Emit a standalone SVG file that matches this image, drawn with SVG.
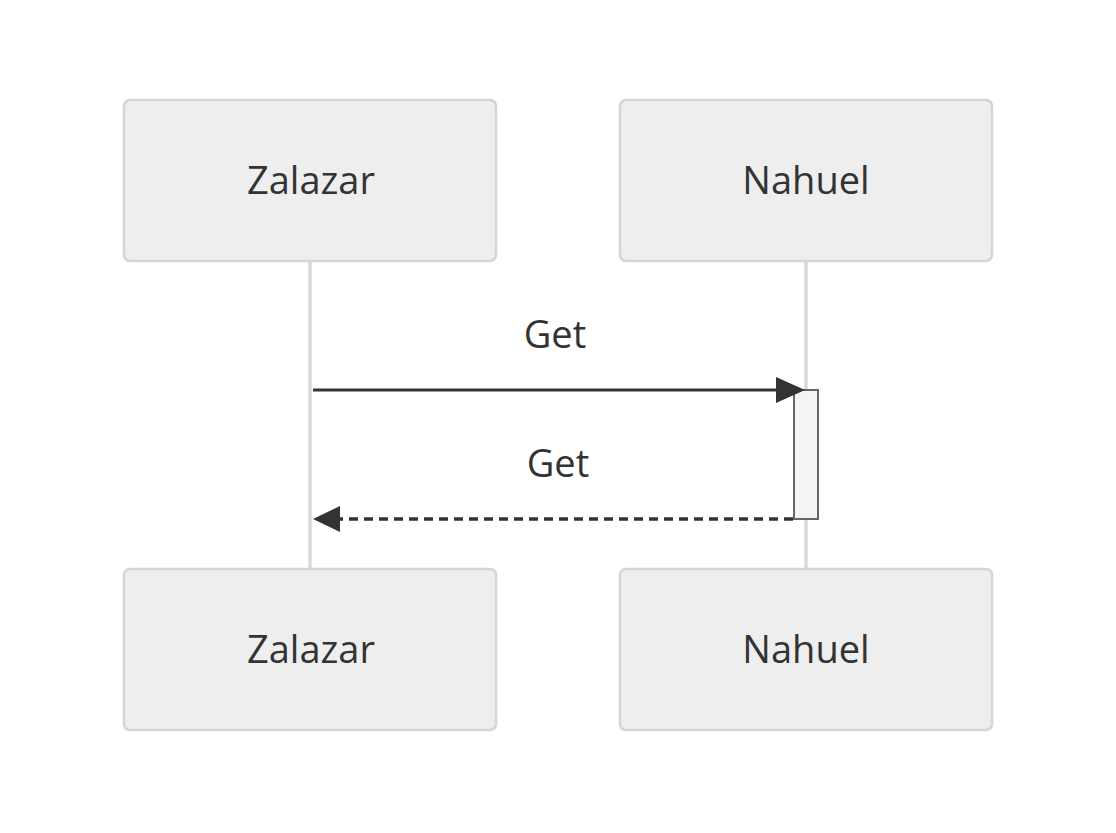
<svg xmlns="http://www.w3.org/2000/svg" width="1116" height="833" viewBox="0 0 1116 833">
<defs>
<style>
.actor{fill:#eeeeee;stroke:#d5d5d5;stroke-width:2.5}
.lbl{font-family:"Trebuchet MS","Open Sans","DejaVu Sans",sans-serif;font-size:38px;fill:#333333;text-anchor:middle}
.life{stroke:#d9d9d9;stroke-width:3.5}
.msg{stroke:#333333;stroke-width:3;fill:none}
.dash{stroke-width:3.5;stroke-dasharray:9,6}
</style>
</defs>
<rect width="1116" height="833" fill="#ffffff"/>
<g id="lifelines">
<line class="life" x1="310" y1="262" x2="310" y2="569"/>
<line class="life" x1="806" y1="262" x2="806" y2="569"/>
</g>
<g id="actor-zalazar-top"><rect class="actor" x="124" y="100" width="372" height="161" rx="6"/><text class="lbl" x="311" y="194">Zalazar</text></g>
<g id="actor-nahuel-top"><rect class="actor" x="620" y="100" width="372" height="161" rx="6"/><text class="lbl" x="806" y="194">Nahuel</text></g>
<g id="actor-zalazar-bottom"><rect class="actor" x="124" y="569" width="372" height="161" rx="6"/><text class="lbl" x="311" y="663">Zalazar</text></g>
<g id="actor-nahuel-bottom"><rect class="actor" x="620" y="569" width="372" height="161" rx="6"/><text class="lbl" x="806" y="663">Nahuel</text></g>
<g id="activation"><rect x="794" y="390" width="24" height="129" fill="#f4f4f4" stroke="#666666" stroke-width="2"/></g>
<g id="connectors">
<text class="lbl" x="555" y="348">Get</text>
<line class="msg" x1="313" y1="390" x2="776" y2="390"/>
<path d="M776,377 L805,390 L776,403 z" fill="#333333"/>
<text class="lbl" x="558" y="477">Get</text>
<line class="msg dash" x1="793" y1="519" x2="340" y2="519"/>
<path d="M340,506 L313,519 L340,532 z" fill="#333333"/>
</g>
</svg>
